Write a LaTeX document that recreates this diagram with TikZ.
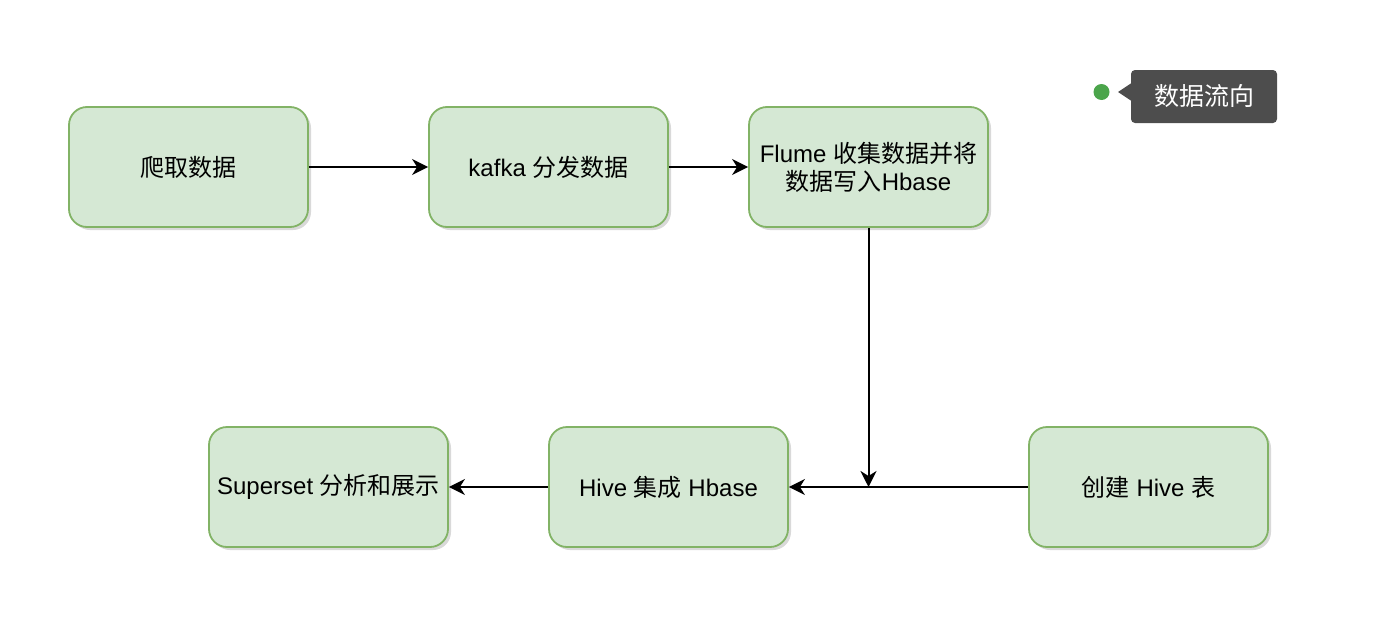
\documentclass[tikz,border=0pt]{standalone}
\usepackage{fontspec}
\setmainfont{Liberation Sans}
\newfontfamily\cjk{Noto Sans CJK SC}
\usetikzlibrary{shadows,arrows.meta}
\definecolor{boxfill}{HTML}{D5E8D4}
\definecolor{boxline}{HTML}{82B366}
\definecolor{notegray}{HTML}{4D4D4D}
\definecolor{dotgreen}{HTML}{4BA54B}
\newcommand\zh[1]{{\cjk #1}}
\tikzstyle{stage}=[draw=boxline,fill=boxfill,line width=1.8pt,rounded corners=18pt,
                   minimum width=239pt,minimum height=120pt,inner sep=0pt,align=center,
                   font=\fontsize{24}{28}\selectfont,
                   drop shadow={opacity=0.3,shadow xshift=3pt,shadow yshift=-3pt}]
\tikzstyle{flow}=[line width=2pt,-{Stealth[length=16pt,width=16pt,inset=5pt]}]

\begin{document}
\begin{tikzpicture}[x=1pt,y=-1pt]
  \useasboundingbox (0,0) rectangle (1392,632);

  \node[stage] (crawl) at (188.5,167) {\zh{爬取数据}};
  \node[stage] (kafka) at (548.5,167) {kafka \zh{分发数据}};
  \node[stage] (flume) at (868.5,167) {Flume \zh{收集数据并将}\\\zh{数据写入}Hbase};
  \node[stage] (superset) at (328.5,487) {Superset \zh{分析和展示}};
  \node[stage] (hive) at (668.5,487) {Hive \zh{集成} Hbase};
  \node[stage] (table) at (1148.5,487) {\zh{创建} Hive \zh{表}};
  \coordinate (join) at (868.5,487);

  \path[flow] (crawl) edge (kafka);
  \path[flow] (kafka) edge (flume);
  \path[flow] (flume) edge (join);
  \path[flow] (table) edge (hive);
  \path[flow] (hive) edge (superset);

  % legend
  \node[circle,fill=dotgreen,minimum size=16pt,inner sep=0pt] (dot) at (1101.5,92) {};
  \node[fill=notegray,rounded corners=4pt,minimum width=146pt,minimum height=53pt,
        text=white,font=\fontsize{25}{30}\selectfont\cjk] (note) at (1204,96.5) {数据流向};
  \fill[notegray] (1131.5,83) -- (1118,92) -- (1131.5,101) -- cycle;

\end{tikzpicture}
\end{document}
